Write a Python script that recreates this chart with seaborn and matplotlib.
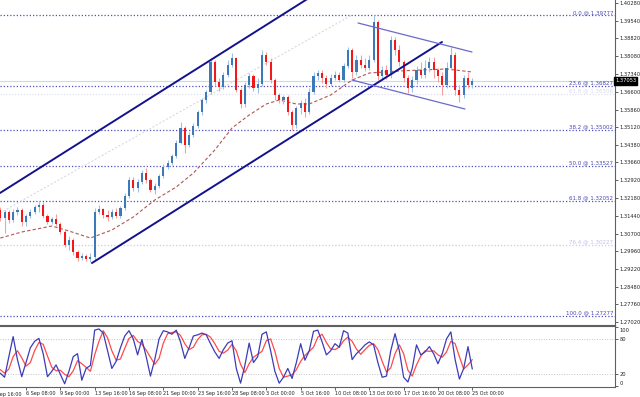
import numpy as np
import pandas as pd
import matplotlib
matplotlib.use("Agg")
import matplotlib.pyplot as plt
import seaborn as sns
from matplotlib.transforms import blended_transform_factory, ScaledTranslation

sns.set_theme(style="white")
plt.rcParams['font.family'] = ['Liberation Sans Narrow', 'DejaVu Sans']

# ---------------- data ----------------
bar_index = list(range(2, 113))
opens = [1.3168,1.3135,1.3160,1.3126,1.3160,1.3168,1.3118,1.3143,1.3160,1.3180,
         1.3189,1.3143,1.3118,1.3131,1.3110,1.3077,1.3023,1.3043,1.2993,1.2969,
         1.2977,1.2964,1.2973,1.3160,1.3172,1.3147,1.3139,1.3160,1.3143,1.3176,
         1.3226,1.3293,1.3259,1.3284,1.3322,1.3293,1.3251,1.3268,1.3309,1.3347,
         1.3363,1.3393,1.3446,1.3509,1.3438,1.3480,1.3517,1.3575,1.3625,1.3659,
         1.3783,1.3700,1.3679,1.3729,1.3771,1.3800,1.3667,1.3609,1.3688,1.3725,
         1.3675,1.3692,1.3812,1.3783,1.3708,1.3646,1.3625,1.3638,1.3575,1.3521,
         1.3592,1.3613,1.3575,1.3659,1.3725,1.3738,1.3717,1.3692,1.3717,1.3729,
         1.3708,1.3767,1.3833,1.3742,1.3792,1.3771,1.3758,1.3792,1.3950,1.3725,
         1.3750,1.3729,1.3875,1.3833,1.3783,1.3717,1.3675,1.3708,1.3750,1.3729,
         1.3758,1.3783,1.3750,1.3725,1.3688,1.3758,1.3812,1.3667,1.3646,1.3717,
         1.3688]
highs = [1.3180,1.3168,1.3168,1.3172,1.3180,1.3176,1.3151,1.3172,1.3189,1.3201,
         1.3201,1.3151,1.3139,1.3151,1.3118,1.3085,1.3060,1.3052,1.3002,1.2989,
         1.2985,1.2989,1.3176,1.3189,1.3176,1.3168,1.3172,1.3176,1.3185,1.3239,
         1.3305,1.3305,1.3297,1.3334,1.3343,1.3301,1.3280,1.3318,1.3359,1.3376,
         1.3401,1.3459,1.3534,1.3517,1.3492,1.3530,1.3584,1.3634,1.3667,1.3800,
         1.3792,1.3717,1.3742,1.3792,1.3821,1.3804,1.3675,1.3700,1.3738,1.3733,
         1.3717,1.3833,1.3825,1.3800,1.3717,1.3654,1.3646,1.3646,1.3584,1.3600,
         1.3625,1.3634,1.3675,1.3742,1.3750,1.3750,1.3729,1.3733,1.3746,1.3742,
         1.3779,1.3846,1.3841,1.3812,1.3812,1.3800,1.3812,1.3977,1.3958,1.3767,
         1.3771,1.3891,1.3887,1.3854,1.3792,1.3729,1.3725,1.3767,1.3783,1.3792,
         1.3804,1.3804,1.3758,1.3742,1.3783,1.3846,1.3825,1.3688,1.3729,1.3742,
         1.3717]
lows = [1.3122,1.3072,1.3114,1.3118,1.3147,1.3101,1.3101,1.3135,1.3151,1.3160,
        1.3135,1.3110,1.3110,1.3101,1.3068,1.3014,1.3002,1.2981,1.2956,1.2960,
        1.2956,1.2952,1.2960,1.3151,1.3135,1.3122,1.3131,1.3135,1.3135,1.3168,
        1.3218,1.3247,1.3243,1.3276,1.3280,1.3243,1.3234,1.3259,1.3301,1.3339,
        1.3355,1.3384,1.3442,1.3405,1.3430,1.3471,1.3509,1.3563,1.3613,1.3650,
        1.3683,1.3663,1.3671,1.3721,1.3762,1.3659,1.3592,1.3596,1.3675,1.3663,
        1.3654,1.3683,1.3771,1.3696,1.3625,1.3613,1.3609,1.3563,1.3501,1.3509,
        1.3567,1.3555,1.3567,1.3650,1.3708,1.3696,1.3675,1.3683,1.3708,1.3700,
        1.3700,1.3758,1.3717,1.3729,1.3758,1.3746,1.3750,1.3783,1.3708,1.3708,
        1.3713,1.3717,1.3812,1.3767,1.3700,1.3654,1.3659,1.3692,1.3717,1.3717,
        1.3742,1.3717,1.3700,1.3646,1.3675,1.3750,1.3646,1.3617,1.3634,1.3675,
        1.3675]
closes = [1.3135,1.3160,1.3126,1.3160,1.3168,1.3118,1.3143,1.3160,1.3180,1.3189,
          1.3143,1.3118,1.3131,1.3110,1.3077,1.3023,1.3043,1.2993,1.2969,1.2977,
          1.2964,1.2973,1.3160,1.3172,1.3147,1.3139,1.3160,1.3143,1.3176,1.3226,
          1.3293,1.3259,1.3284,1.3322,1.3293,1.3251,1.3268,1.3309,1.3347,1.3363,
          1.3393,1.3446,1.3509,1.3438,1.3480,1.3517,1.3575,1.3625,1.3659,1.3783,
          1.3700,1.3679,1.3729,1.3771,1.3800,1.3667,1.3609,1.3688,1.3725,1.3675,
          1.3692,1.3812,1.3783,1.3708,1.3646,1.3625,1.3638,1.3575,1.3521,1.3592,
          1.3613,1.3575,1.3659,1.3725,1.3738,1.3717,1.3692,1.3717,1.3729,1.3708,
          1.3767,1.3833,1.3742,1.3792,1.3771,1.3758,1.3792,1.3950,1.3725,1.3750,
          1.3729,1.3875,1.3833,1.3783,1.3717,1.3675,1.3708,1.3750,1.3729,1.3758,
          1.3783,1.3750,1.3725,1.3688,1.3758,1.3812,1.3667,1.3646,1.3717,1.3688,
          1.37053]

ma_bars = [2, 7, 14, 18, 23, 28, 33, 38, 43, 47, 52, 56, 60, 64, 67, 71, 74, 79, 84, 88, 95, 100, 106, 112]
ma_values = [1.30519, 1.30769, 1.31018, 1.30810, 1.30519, 1.30852, 1.31392, 1.32099, 1.32639, 1.33221,
             1.34177, 1.35092, 1.35632, 1.36090, 1.36256, 1.36090, 1.36090, 1.36464, 1.37087, 1.37378,
             1.37462, 1.37503, 1.37545, 1.37420]

stoch_k = [22,15,50,84,45,16,40,65,76,81,55,16,25,36,20,4,25,50,55,10,
           30,35,95,97,90,60,30,42,65,85,94,80,53,79,50,17,45,80,94,92,
           88,95,75,47,65,85,87,90,87,72,58,47,62,73,77,30,5,35,73,40,
           50,88,92,60,25,5,15,30,13,40,72,44,60,93,95,75,53,60,72,66,
           94,90,45,55,62,70,75,70,40,15,17,60,89,60,15,7,30,70,53,58,
           67,55,38,55,80,92,45,12,30,67,29]
stoch_d = [28,22,29,50,60,48,34,40,60,74,71,51,32,26,27,20,16,26,43,38,
           32,25,53,76,94,82,60,44,46,64,81,86,76,71,61,49,37,47,73,89,
           91,92,86,72,62,66,79,87,88,83,72,59,56,61,71,60,37,23,38,49,
           54,59,77,80,59,30,15,17,19,28,42,52,59,66,83,88,74,63,62,66,
           77,83,76,63,54,62,69,72,62,42,24,31,55,70,55,27,17,36,51,60,
           59,60,53,49,58,76,72,50,29,36,45]

fib_pcts = ['0.0', '23.6', '38.2', '50.0', '61.8', '76.4', '100.0']
fib_prices = [1.39777, 1.36827, 1.35002, 1.33527, 1.32052, 1.30227, 1.27277]
fib_faint = [False, False, False, False, False, True, False]
extra_faint_level = 1.36506
current_price = 1.37053

price_ticks = [1.40280, 1.39540, 1.38820, 1.38080, 1.37340, 1.36600, 1.35860, 1.35120, 1.34380,
               1.33660, 1.32920, 1.32180, 1.31440, 1.30700, 1.29960, 1.29220, 1.28480, 1.27760, 1.27020]
date_tick_bars = [0, 8, 16, 24, 32, 40, 48, 56, 64, 72, 80, 88, 96, 104, 112]
date_labels = ['1 Sep 16:00', '6 Sep 08:00', '9 Sep 00:00', '13 Sep 16:00', '16 Sep 08:00',
               '21 Sep 00:00', '23 Sep 16:00', '28 Sep 08:00', '3 Oct 00:00', '5 Oct 16:00',
               '10 Oct 08:00', '13 Oct 00:00', '17 Oct 16:00', '20 Oct 08:00', '25 Oct 00:00']

# trend objects (anchor bar, price)
up_chan_upper = ([1.93, 104.94], [1.32390, 1.43988])
up_chan_lower = ([23.37, 104.94], [1.29480, 1.38667])
dn_chan_upper = ([85.37, 111.93], [1.39457, 1.38251])
dn_chan_lower = ([83.97, 110.30], [1.37087, 1.35882])
fib_diag = ([1.93, 83.97], [1.31559, 1.39789])
stoch_levels = [80, 20]

# ---------------- figure ----------------
fig = plt.figure(figsize=(6.4, 3.97), dpi=100)
fig.patch.set_facecolor('white')
ax = fig.add_axes([0, 72.5/397, 615/640, 324.5/397])
ax2 = fig.add_axes([0, 10.3/397, 615/640, 60.7/397])

xlim = (1.934, 145.26)
ax.set_xlim(*xlim)
ax.set_ylim(1.26924, 1.40413)
ax2.set_xlim(*xlim)
ax2.set_ylim(-1, 102)

fs = 3.7
tick_color = '#222222'
spine_color = '#606060'

# fib levels
trans_r = blended_transform_factory(ax.transAxes, ax.transData)
for pct, lvl, faint in zip(fib_pcts, fib_prices, fib_faint):
    col = '#c9c9ee' if faint else '#4f4fc0'
    ax.axhline(lvl, color=col, lw=0.9, ls=(0, (1, 1.6)), zorder=1)
    ax.text(0.997, lvl + 0.0002, f'{pct} @ {lvl:.5f}', transform=trans_r, ha='right', va='bottom',
            fontsize=fs + 0.3, color='#c0c0e8' if faint else '#4848b8', zorder=5)
ax.axhline(extra_faint_level, color='#dcdcef', lw=0.8, ls=(0, (1, 1.6)), zorder=1)
ax.text(0.997, extra_faint_level + 0.0002, f'61.8 @ {extra_faint_level:.5f}', transform=trans_r,
        ha='right', va='bottom', fontsize=fs + 0.3, color='#dadaf2', zorder=1)

# current price line
ax.axhline(current_price, color='#b9e3ea', lw=0.8, zorder=1)

# faint fib diagonal
ax.plot(fib_diag[0], fib_diag[1], color='#d2d2da', lw=0.7, ls=(0, (2, 2)), zorder=1)

# moving average
sns.lineplot(x=ma_bars, y=ma_values, ax=ax, color='#b3574f', lw=0.8, zorder=2)
ax.lines[-1].set_dashes((3, 2))

# candles
df = pd.DataFrame(dict(bar=bar_index, open=opens, high=highs, low=lows, close=closes))
up = df['close'] >= df['open']
dn = ~up
ax.vlines(df['bar'][up], df['low'][up], df['high'][up], color='#9fc2e4', lw=0.8, zorder=3)
ax.vlines(df['bar'][dn], df['low'][dn], df['high'][dn], color='#f4a0a0', lw=0.8, zorder=3)
ax.bar(df['bar'][up], (df['close'] - df['open'])[up], bottom=df['open'][up], width=0.5,
       color='#3b79b8', linewidth=0, zorder=4)
ax.bar(df['bar'][dn], (df['close'] - df['open'])[dn], bottom=df['open'][dn], width=0.5,
       color='#f01818', linewidth=0, zorder=4)

# channels
ax.plot(*up_chan_upper, color='#12128c', lw=1.4, zorder=5)
ax.plot(*up_chan_lower, color='#12128c', lw=1.4, zorder=5)
ax.plot(*dn_chan_upper, color='#6a6acc', lw=0.9, zorder=5)
ax.plot(*dn_chan_lower, color='#6a6acc', lw=0.9, zorder=5)

# axes styling main
ax.set_xticks([])
ax.yaxis.tick_right()
ax.set_yticks(price_ticks)
ax.set_yticklabels([f'{v:.5f}' for v in price_ticks])
ax.tick_params(axis='y', labelsize=fs, length=2, width=0.5, pad=1.5, colors=tick_color,
               right=True, left=False)
for s in ['left', 'top']:
    ax.spines[s].set_visible(False)
for s in ['right', 'bottom']:
    ax.spines[s].set_color(spine_color)
    ax.spines[s].set_linewidth(0.8)
ax.set_xlabel('')
ax.set_ylabel('')

# current price box
ax.text(1.0, current_price, f'{current_price:.5f}', transform=trans_r, ha='left', va='center',
        fontsize=fs, color='white', clip_on=False, zorder=10,
        bbox=dict(boxstyle='square,pad=0.25', fc='black', ec='black'))

# stochastic
for lvl in stoch_levels:
    ax2.axhline(lvl, color='#c4c4c4', lw=0.7, ls=(0, (1, 1.6)), zorder=1)
sns.lineplot(x=bar_index, y=stoch_d, ax=ax2, color='#ff4a4a', lw=0.9, zorder=3)
sns.lineplot(x=bar_index, y=stoch_k, ax=ax2, color='#3c3cb8', lw=0.9, zorder=4)
ax2.set_xlabel('')
ax2.set_ylabel('')
ax2.yaxis.tick_right()
ax2.set_yticks([0, 20, 80, 100])
ax2.set_yticklabels(['0', '20', '80', '100'])
ax2.tick_params(axis='y', labelsize=fs, length=2, width=0.5, pad=1.5, colors=tick_color,
                right=True, left=False)
offs = {'100': -3, '0': 3}
for lbl in ax2.get_yticklabels():
    dy = offs.get(lbl.get_text(), 0)
    lbl.set_transform(lbl.get_transform() + ScaledTranslation(0, dy / 72 * 0.72, fig.dpi_scale_trans))

vis_ticks = [b for b in date_tick_bars if b >= xlim[0]]
vis_labels = [l for b, l in zip(date_tick_bars, date_labels) if b >= xlim[0]]
ax2.set_xticks(vis_ticks)
ax2.set_xticklabels(vis_labels, ha='left')
ax2.tick_params(axis='x', labelsize=fs - 0.2, length=2, width=0.5, pad=1.2, colors=tick_color,
                bottom=True)
trans_b = blended_transform_factory(ax2.transData, ax2.transAxes)
for b, l in zip(date_tick_bars, date_labels):
    if b < xlim[0]:
        ax2.text(b, -0.085, l, transform=trans_b, ha='left', va='top', fontsize=fs - 0.2,
                 color=tick_color, clip_on=False)
ax2.spines['left'].set_visible(False)
for s in ['right', 'bottom', 'top']:
    ax2.spines[s].set_color(spine_color)
    ax2.spines[s].set_linewidth(0.8)

fig.savefig('out.png', dpi=100, facecolor='white')
